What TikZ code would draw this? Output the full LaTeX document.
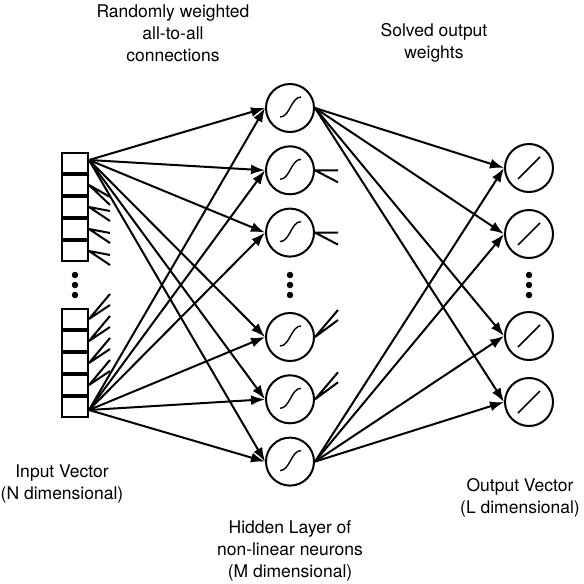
\documentclass[tikz,border=0pt]{standalone}
\usepackage{fontspec}
\setmainfont{TeX Gyre Heros}
\usetikzlibrary{arrows.meta,positioning}

\begin{document}
\begin{tikzpicture}[
  x = 1pt, y = -1pt,
  line width = 2pt,
  > = {Latex[length=14pt,width=10pt]},
  cell/.style = {rectangle, draw, minimum width=26pt, minimum height=20pt,
                 inner sep=0pt},
  hid/.style  = {circle, draw, minimum size=48pt, inner sep=0pt,
                 path picture={\draw[line width=1.4pt]
                   ([shift={(-10pt,-9pt)}]path picture bounding box.center)
                   .. controls +(10pt,0pt) and +(-10pt,0pt) ..
                   ([shift={(11pt,11pt)}]path picture bounding box.center);}},
  outn/.style = {circle, draw, minimum size=48pt, inner sep=0pt,
                 path picture={\draw[line width=1.6pt]
                   ([shift={(-11pt,-11pt)}]path picture bounding box.center) --
                   ([shift={(11pt,11pt)}]path picture bounding box.center);}},
  vdot/.style = {circle, fill, inner sep=0pt, minimum size=6.5pt},
  lbl/.style  = {align=center, font=\fontsize{17.5}{22}\selectfont}
]
\useasboundingbox (0,0) rectangle (584,584);

% input vector
\node[cell] (in1) at (75,163) {};
\node[cell, below=0pt of in1] (in2) {};
\node[cell, below=0pt of in2] (in3) {};
\node[cell, below=0pt of in3] (in4) {};
\node[cell, below=0pt of in4] (in5) {};
\node[vdot] (id1) at (75,275) {};
\node[vdot] (id2) at (75,285) {};
\node[vdot] (id3) at (75,295) {};
\node[cell] (in6) at (75,319) {};
\node[cell, below=0pt of in6] (in7) {};
\node[cell, below=0pt of in7] (in8) {};
\node[cell, below=0pt of in8] (in9) {};
\node[cell, below=0pt of in9] (in10) {};

\coordinate (src)  at ([yshift=3pt]in1.east);
\coordinate (srcb) at ([yshift=-3pt]in10.east);

% hidden layer
\node[hid] (h1) at (290,108) {};
\node[hid, below=12.3pt of h1] (h2) {};
\node[hid, below=12.3pt of h2] (h3) {};
\node[vdot] (hd1) at (290,275) {};
\node[vdot] (hd2) at (290,285) {};
\node[vdot] (hd3) at (290,295) {};
\node[hid] (h4) at (290,337) {};
\node[hid, below=12.3pt of h4] (h5) {};
\node[hid, below=12.3pt of h5] (h6) {};

% output layer
\node[outn] (o1) at (529,168) {};
\node[outn, below=16pt of o1] (o2) {};
\node[vdot] (od1) at (529,275) {};
\node[vdot] (od2) at (529,285) {};
\node[vdot] (od3) at (529,295) {};
\node[outn] (o3) at (529,336) {};
\node[outn, below=16pt of o3] (o4) {};

% random weights
\draw[->] (src) -- (h1.west);
\draw[->] (src) -- (h2.west);
\draw[->] (src) -- (h3.west);
\draw[->] (src) -- (h4.west);
\draw[->] (src) -- (h5.west);
\draw[->] (src) -- (h6.west);
\draw[->] (srcb) -- (h1.west);
\draw[->] (srcb) -- (h2.west);
\draw[->] (srcb) -- (h3.west);
\draw[->] (srcb) -- (h4.west);
\draw[->] (srcb) -- (h5.west);
\draw[->] (srcb) -- (h6.west);

% the other input cells only hint at their lines
\draw (in2.east) -- ++(21,12) (in2.east) -- ++(21,20);
\draw (in3.east) -- ++(21,4)  (in3.east) -- ++(21,14);
\draw (in4.east) -- ++(21,4)  (in4.east) -- ++(21,14);
\draw (in5.east) -- ++(21,4)  (in5.east) -- ++(21,14);
\draw (in6.east) -- ++(21,-25) (in6.east) -- ++(21,-14);
\draw (in7.east) -- ++(21,-25) (in7.east) -- ++(21,-14);
\draw (in8.east) -- ++(21,-25) (in8.east) -- ++(21,-14);
\draw (in9.east) -- ++(21,-25) (in9.east) -- ++(21,-14);

% solved weights
\draw[->] (h1.east) -- (o1.west);
\draw[->] (h1.east) -- (o2.west);
\draw[->] (h1.east) -- (o3.west);
\draw[->] (h1.east) -- (o4.west);
\draw[->] (h6.east) -- (o1.west);
\draw[->] (h6.east) -- (o2.west);
\draw[->] (h6.east) -- (o3.west);
\draw[->] (h6.east) -- (o4.west);

\draw (h2.east) -- ++(23,0)   (h2.east) -- ++(23,12);
\draw (h3.east) -- ++(23,0)   (h3.east) -- ++(23,12);
\draw (h4.east) -- ++(23,-27) (h4.east) -- ++(23,-17);
\draw (h5.east) -- ++(23,-27) (h5.east) -- ++(23,-17);

% labels
\node[lbl] (lconn)   at (173,33)  {Randomly weighted\\all-to-all\\connections};
\node[lbl] (lsolved) at (434,43)  {Solved output\\weights};
\node[lbl] (lin)     at (62,484)  {Input Vector\\(N dimensional)};
\node[lbl] (lhid)    at (290,551) {Hidden Layer of\\non-linear neurons\\(M dimensional)};
\node[lbl] (lout)    at (520,498) {Output Vector\\(L dimensional)};
\end{tikzpicture}
\end{document}
